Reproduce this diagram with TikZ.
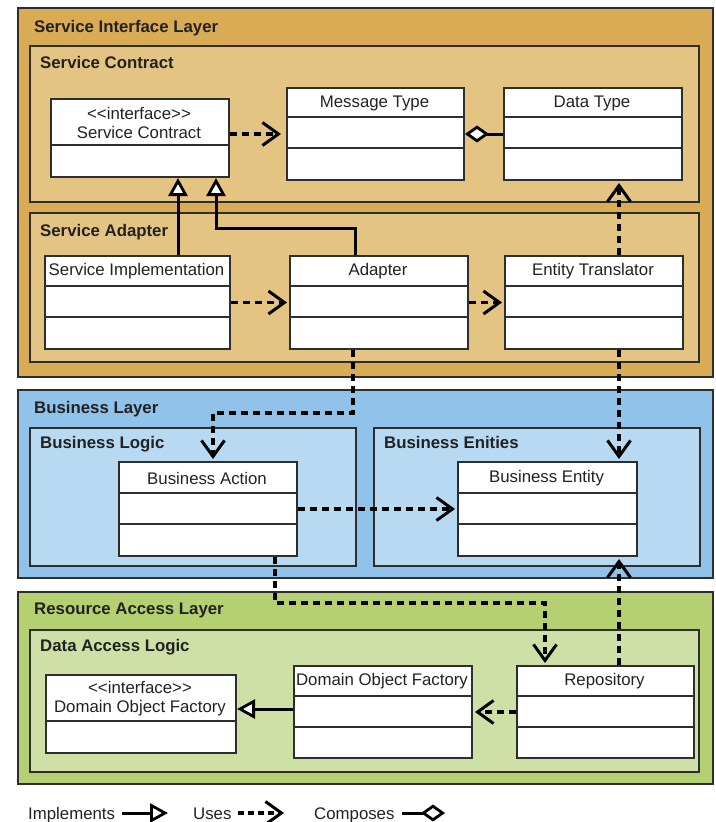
\documentclass[tikz,border=0pt]{standalone}
\usepackage{fontspec}
\setmainfont{Liberation Sans}[Ligatures=TeXOff]
\usetikzlibrary{arrows.meta,calc}
\definecolor{silOuter}{HTML}{D9AB54}
\definecolor{silInner}{HTML}{E4C483}
\definecolor{blOuter}{HTML}{90C2EA}
\definecolor{blInner}{HTML}{B8D9F2}
\definecolor{ralOuter}{HTML}{B4D071}
\definecolor{ralInner}{HTML}{CEE0A5}
\definecolor{edge}{HTML}{2E2E2E}
\definecolor{ink}{HTML}{222222}
\newcommand\boxfont{\fontsize{16.8}{20}\selectfont}
\newcommand\ttlfont{\fontsize{16.8}{20}\selectfont\bfseries}
\tikzset{
  layerbox/.style={draw=edge, line width=2.2pt},
  umlbox/.style={draw=edge, fill=white, line width=2pt, inner sep=0pt, anchor=north west},
  divline/.style={draw=edge, line width=1.8pt},
  boxtext/.style={font=\boxfont, text=ink, inner sep=0pt, align=center},
  ttl/.style={font=\ttlfont, text=ink, inner sep=0pt, anchor=base west},
  legtext/.style={font=\boxfont, text=ink, inner sep=0pt, anchor=base west},
  uses/.style={draw=black, line width=3.2pt, dash pattern=on 7pt off 5pt,
    -{Straight Barb[length=16pt,width=23pt,line width=3pt]}, shorten >=2pt},
  impl/.style={draw=black, line width=3pt,
    -{Triangle[fill=white,length=18pt,width=19pt,line width=2.8pt]}},
  comp/.style={draw=black, line width=3pt,
    -{Diamond[fill=white,length=24pt,width=17pt,line width=2.8pt]}},
}
% name, x1, y1, x2, y2, div1, div2, label
\newcommand\classbox[8]{%
  \node[umlbox, minimum width={(#4-#2)*1pt}, minimum height={(#5-#3)*1pt}] (#1) at (#2,#3) {};
  \draw[divline] (#2,#6) -- (#4,#6);
  \draw[divline] (#2,#7) -- (#4,#7);
  \node[boxtext] (#1-lbl) at ({(#2+#4)/2},{(#3+#6)/2+1}) {#8};
}
% name, x1, y1, x2, y2, div1, label
\newcommand\ifacebox[7]{%
  \node[umlbox, minimum width={(#4-#2)*1pt}, minimum height={(#5-#3)*1pt}] (#1) at (#2,#3) {};
  \draw[divline] (#2,#6) -- (#4,#6);
  \node[boxtext] (#1-lbl) at ({(#2+#4)/2},{(#3+#6)/2+1}) {#7};
}
\begin{document}
\begin{tikzpicture}[x=1pt,y=-1pt]
\useasboundingbox (0,0) rectangle (715,822);
\fill[white] (0,0) rectangle (715,822);

% ---- layers ----
\draw[layerbox, fill=silOuter] (18,8) rectangle (713,377);
\draw[layerbox, fill=silInner] (30,46) rectangle (699,202);
\draw[layerbox, fill=silInner] (30,213) rectangle (699,362);
\node[ttl] (t1) at (34,32) {Service Interface Layer};
\node[ttl] (t2) at (40,68) {Service Contract};
\node[ttl] (t3) at (40,236) {Service Adapter};

\draw[layerbox, fill=blOuter] (18,390) rectangle (713,578);
\draw[layerbox, fill=blInner] (30,428) rectangle (356,566);
\draw[layerbox, fill=blInner] (374,428) rectangle (700,566);
\node[ttl] (t4) at (34,413) {Business Layer};
\node[ttl] (t5) at (40,448) {Business Logic};
\node[ttl] (t6) at (384,448) {Business Enities};

\draw[layerbox, fill=ralOuter] (18,592) rectangle (713,784);
\draw[layerbox, fill=ralInner] (30,630) rectangle (699,772);
\node[ttl] (t7) at (34,614) {Resource Access Layer};
\node[ttl] (t8) at (40,651) {Data Access Logic};

% ---- classes ----
\ifacebox{sc}{50}{98}{228}{176}{145}{<\kern0pt<interface>\kern0pt>\\[-1pt]Service Contract}
\classbox{mt}{286}{87}{463}{179}{117}{148}{Message Type}
\classbox{dt}{503}{87}{681}{179}{117}{148}{Data Type}
\classbox{si}{44}{255}{229}{348}{286}{317}{Service Implementation}
\classbox{ad}{289}{255}{467}{348}{286}{317}{Adapter}
\classbox{et}{504}{255}{682}{348}{286}{317}{Entity Translator}
\classbox{ba}{118}{461}{296}{555}{493}{524}{Business Action}
\classbox{be}{457}{461}{636}{555}{493}{524}{Business Entity}
\ifacebox{idof}{45}{674}{235}{752}{721}{<\kern0pt<interface>\kern0pt>\\[-1pt]Domain Object Factory}
\classbox{dof}{293}{665}{471}{757}{696}{727}{Domain Object Factory}
\classbox{rep}{516}{665}{693}{757}{696}{727}{Repository}

% ---- connectors ----
\draw[uses, shorten >=5pt] (sc.east |- mt.west) -- (mt.west);
\draw[comp] (dt.west) -- (mt.east);
\coordinate (siTop) at ($(si.north west)+(134,0)$);
\draw[impl] (siTop) -- (siTop |- sc.south);
\coordinate (adTop) at ($(ad.north west)+(66,0)$);
\coordinate (bendA) at (216,228);
\draw[impl] (adTop) |- (bendA) -- (bendA |- sc.south);
\draw[uses] (si.east) -- (ad.west);
\draw[uses] (ad.east) -- (et.west);
\coordinate (etTop) at ($(et.north west)+(115,0)$);
\draw[uses] (etTop) -- (etTop |- dt.south);
\coordinate (etBot) at ($(et.south west)+(115,0)$);
\draw[uses] (etBot) -- (etBot |- be.north);
\coordinate (adBot) at ($(ad.south west)+(64,0)$);
\coordinate (bendB) at (213,413);
\draw[uses] (adBot) |- (bendB) -- (bendB |- ba.north);
\draw[uses] (ba.east) -- (be.west);
\coordinate (baBot) at ($(ba.south west)+(157,0)$);
\coordinate (bendC) at (545,603);
\draw[uses] (baBot) |- (bendC) -- (bendC |- rep.north);
\coordinate (repTop) at ($(rep.north west)+(103,0)$);
\draw[uses] (repTop) -- (repTop |- be.south);
\coordinate (dofL) at ($(dof.west)+(0,-3)$);
\draw[impl] (dofL) -- (dofL -| idof.east);
\draw[uses] (rep.west) -- (dof.east);

% ---- legend ----
\node[legtext] (lg1) at (28,819) {Implements};
\coordinate (lg1a) at (122,813);
\coordinate (lg1b) at (168,813);
\draw[impl] (lg1a) -- (lg1b);
\node[legtext] (lg2) at (193,819) {Uses};
\coordinate (lg2a) at (238,813);
\coordinate (lg2b) at (284,813);
\draw[uses, dash pattern=on 6pt off 4pt, shorten >=0pt] (lg2a) -- (lg2b);
\node[legtext] (lg3) at (314,819) {Composes};
\coordinate (lg3a) at (402,813);
\coordinate (lg3b) at (445,813);
\draw[comp] (lg3a) -- (lg3b);
\end{tikzpicture}
\end{document}
